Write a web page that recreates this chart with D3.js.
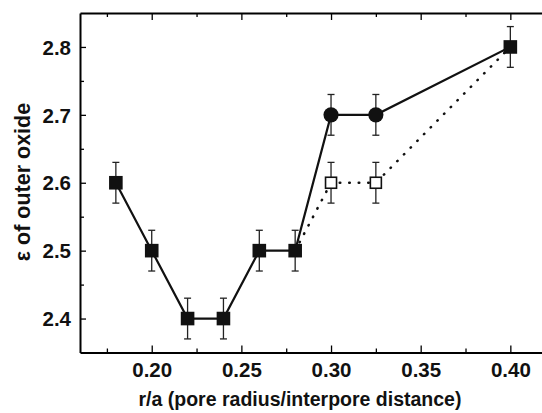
<!DOCTYPE html>
<html>
<head>
<meta charset="utf-8">
<script src="https://cdn.jsdelivr.net/npm/d3@7"></script>
<style>
    body { margin: 0; background: #fff; }
    svg { display: block; }
    .tickLabel { font-family: "Liberation Sans", Arial, sans-serif; font-size: 20.5px; font-weight: bold; fill: #111; }
    .axisTitle { font-family: "Liberation Sans", Arial, sans-serif; font-size: 19.5px; font-weight: bold; fill: #111; }
</style>
</head>
<body>
<div id="chart"></div>
<script>
// r/a values and epsilon of the outer oxide
const ratio = [0.18, 0.20, 0.22, 0.24, 0.26, 0.28, 0.30, 0.325, 0.40];
const epsSolid = [2.6, 2.5, 2.4, 2.4, 2.5, 2.5, 2.7, 2.7, 2.8];
const shapeSolid = ["square", "square", "square", "square", "square", "square", "circle", "circle", "square"];

// dotted branch (open squares)
const ratioOpen = [0.28, 0.30, 0.325, 0.40];
const epsOpen = [2.5, 2.6, 2.6, 2.8];
const shapeOpen = ["none", "open", "open", "none"];

const errBar = 0.03;

const xTicks = [0.20, 0.25, 0.30, 0.35, 0.40];
const xMinor = [0.175, 0.225, 0.275, 0.325, 0.375];
const yTicks = [2.4, 2.5, 2.6, 2.7, 2.8];
const yMinor = [2.45, 2.55, 2.65, 2.75];

class ErrorChart {

    constructor(parentElement) {
        this.parentElement = parentElement;
        this.initVis();
    }

    initVis() {
        let vis = this;

        vis.svg = d3.select(vis.parentElement)
            .append("svg")
            .attr("width", 542)
            .attr("height", 413);

        // scales (right frame falls just outside the picture)
        vis.x = d3.scaleLinear().domain([0.16, 0.42]).range([80, 546.2]);
        vis.y = d3.scaleLinear().domain([2.35, 2.85]).range([352.5, 13]);

        vis.solid = ratio.map((r, i) => ({r: r, e: epsSolid[i], shape: shapeSolid[i]}));
        vis.open = ratioOpen.map((r, i) => ({r: r, e: epsOpen[i], shape: shapeOpen[i]}));

        vis.drawAxes();
        vis.drawData();
    }

    drawAxes() {
        let vis = this;
        let x0 = vis.x.range()[0];
        let y0 = vis.y.range()[0], y1 = vis.y.range()[1];

        // bottom axis, ticks inward
        vis.svg.append("g")
            .attr("transform", "translate(0," + y0 + ")")
            .call(d3.axisBottom(vis.x).tickValues(xTicks).tickSize(-7).tickFormat(d3.format(".2f")).tickSizeOuter(0))
            .call(g => g.select(".domain").attr("stroke-width", 2))
            .call(g => g.selectAll(".tick line").attr("stroke-width", 1.3))
            .call(g => g.selectAll(".tick text").attr("class", "tickLabel").attr("dy", 0).attr("y", 24.5));
        vis.svg.append("g")
            .attr("transform", "translate(0," + y0 + ")")
            .call(d3.axisBottom(vis.x).tickValues(xMinor).tickSize(-4).tickFormat(""))
            .call(g => g.select(".domain").remove())
            .call(g => g.selectAll(".tick line").attr("stroke-width", 1.3));

        // top axis
        vis.svg.append("g")
            .attr("transform", "translate(0," + y1 + ")")
            .call(d3.axisTop(vis.x).tickValues(xTicks).tickSize(-7).tickFormat("").tickSizeOuter(0))
            .call(g => g.select(".domain").attr("stroke-width", 2))
            .call(g => g.selectAll(".tick line").attr("stroke-width", 1.3));
        vis.svg.append("g")
            .attr("transform", "translate(0," + y1 + ")")
            .call(d3.axisTop(vis.x).tickValues(xMinor).tickSize(-4).tickFormat(""))
            .call(g => g.select(".domain").remove())
            .call(g => g.selectAll(".tick line").attr("stroke-width", 1.3));

        // left axis
        vis.svg.append("g")
            .attr("transform", "translate(" + x0 + ",0)")
            .call(d3.axisLeft(vis.y).tickValues(yTicks).tickSize(-6).tickFormat(d3.format(".1f")).tickSizeOuter(0))
            .call(g => g.select(".domain").attr("stroke-width", 2))
            .call(g => g.selectAll(".tick line").attr("stroke-width", 1.3))
            .call(g => g.selectAll(".tick text").attr("class", "tickLabel").attr("x", -9).attr("dy", "0.35em"));
        vis.svg.append("g")
            .attr("transform", "translate(" + x0 + ",0)")
            .call(d3.axisLeft(vis.y).tickValues(yMinor).tickSize(-4).tickFormat(""))
            .call(g => g.select(".domain").remove())
            .call(g => g.selectAll(".tick line").attr("stroke-width", 1.3));

        // axis titles
        vis.svg.append("text")
            .attr("class", "axisTitle")
            .attr("x", 300)
            .attr("y", 406)
            .attr("text-anchor", "middle")
            .text("r/a (pore radius/interpore distance)");

        vis.svg.append("text")
            .attr("class", "axisTitle")
            .attr("transform", "translate(30,182) rotate(-90)")
            .attr("text-anchor", "middle")
            .style("font-size", "21.5px")
            .text("ε of outer oxide");
    }

    drawData() {
        let vis = this;
        let line = d3.line().x(d => vis.x(d.r)).y(d => vis.y(d.e));

        // dotted branch
        vis.svg.append("path")
            .datum(vis.open)
            .attr("d", line)
            .attr("fill", "none")
            .attr("stroke", "#111")
            .attr("stroke-width", 2.6)
            .attr("stroke-linecap", "round")
            .attr("stroke-dasharray", "0.5,9");

        // solid branch
        vis.svg.append("path")
            .datum(vis.solid)
            .attr("d", line)
            .attr("fill", "none")
            .attr("stroke", "#111")
            .attr("stroke-width", 2.2);

        // error bars
        let bars = vis.open.filter(d => d.shape !== "none").concat(vis.solid);
        let eb = vis.svg.append("g").attr("stroke", "#222").attr("stroke-width", 1.3);
        eb.selectAll(".bar")
            .data(bars)
            .join("line")
            .attr("x1", d => vis.x(d.r)).attr("x2", d => vis.x(d.r))
            .attr("y1", d => vis.y(d.e - errBar)).attr("y2", d => vis.y(d.e + errBar));
        eb.selectAll(".capTop")
            .data(bars)
            .join("line")
            .attr("x1", d => vis.x(d.r) - 3.5).attr("x2", d => vis.x(d.r) + 3.5)
            .attr("y1", d => vis.y(d.e + errBar)).attr("y2", d => vis.y(d.e + errBar));
        eb.selectAll(".capBot")
            .data(bars)
            .join("line")
            .attr("x1", d => vis.x(d.r) - 3.5).attr("x2", d => vis.x(d.r) + 3.5)
            .attr("y1", d => vis.y(d.e - errBar)).attr("y2", d => vis.y(d.e - errBar));

        // open squares
        vis.svg.selectAll(".openSq")
            .data(vis.open.filter(d => d.shape === "open"))
            .join("rect")
            .attr("x", d => vis.x(d.r) - 5.5)
            .attr("y", d => vis.y(d.e) - 5.5)
            .attr("width", 11).attr("height", 11)
            .attr("fill", "#fff")
            .attr("stroke", "#111")
            .attr("stroke-width", 1.6);

        // filled squares
        vis.svg.selectAll(".fillSq")
            .data(vis.solid.filter(d => d.shape === "square"))
            .join("rect")
            .attr("x", d => vis.x(d.r) - 6.8)
            .attr("y", d => vis.y(d.e) - 6.8)
            .attr("width", 13.6).attr("height", 13.6)
            .attr("fill", "#111");

        // filled circles
        vis.svg.selectAll(".fillCirc")
            .data(vis.solid.filter(d => d.shape === "circle"))
            .join("circle")
            .attr("cx", d => vis.x(d.r))
            .attr("cy", d => vis.y(d.e))
            .attr("r", 7.6)
            .attr("fill", "#111");
    }
}

new ErrorChart("#chart");
</script>
</body>
</html>
